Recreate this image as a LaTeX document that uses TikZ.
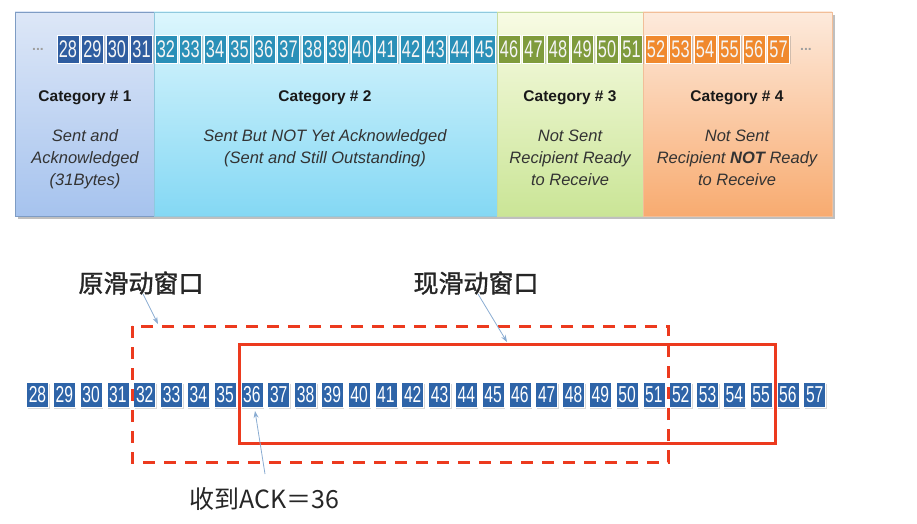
\documentclass[tikz,border=0pt]{standalone}
\usepackage{fontspec}
\setmainfont{Liberation Sans}
\newfontfamily\narrow[FakeStretch=0.68]{Liberation Sans}
\newfontfamily\cjk{Noto Sans CJK SC}
\newfontfamily\cjkm[FakeBold=1.3]{Noto Sans CJK SC}
\usetikzlibrary{arrows.meta,shadows}
\definecolor{c1}{HTML}{2F5DA0}
\definecolor{c2}{HTML}{2A90B8}
\definecolor{c3}{HTML}{7F9B3C}
\definecolor{c4}{HTML}{F0892E}
\definecolor{bb}{HTML}{2E64A8}
\definecolor{winred}{HTML}{EC3A1E}
\definecolor{arrowblue}{HTML}{8AACD2}
\definecolor{desc}{HTML}{333333}
\definecolor{g1t}{HTML}{DDE7F7}\definecolor{g1b}{HTML}{A6C3EE}\definecolor{g1l}{HTML}{7E9CC4}
\definecolor{g2t}{HTML}{DCF6FD}\definecolor{g2b}{HTML}{84D8F4}\definecolor{g2l}{HTML}{8FC9DE}
\definecolor{g3t}{HTML}{F8FBE4}\definecolor{g3b}{HTML}{CAE596}\definecolor{g3l}{HTML}{C8DDA0}
\definecolor{g4t}{HTML}{FDEADC}\definecolor{g4b}{HTML}{F8AB70}\definecolor{g4l}{HTML}{F2BE98}
\tikzset{
  topbox/.style={minimum width=22pt, minimum height=28pt, inner sep=0pt, draw=white, line width=0.6pt,
    font=\narrow\fontsize{24}{24}\selectfont, text=white!92!gray,
    drop shadow={opacity=0.35, shadow xshift=1pt, shadow yshift=-1.5pt}},
  botbox/.style={minimum width=22pt, minimum height=25pt, inner sep=0pt, fill=bb, draw=white, line width=0.6pt,
    font=\narrow\fontsize{23}{23}\selectfont, text=white,
    drop shadow={opacity=0.3, shadow xshift=1pt, shadow yshift=-1.5pt}},
  cattitle/.style={font=\bfseries\fontsize{15.5}{18}\selectfont, text=black!90},
  catdesc/.style={font=\itshape\fontsize{16.5}{22}\selectfont, text=desc, align=center},
  dots/.style={font=\bfseries\fontsize{14}{14}\selectfont, text=gray!75},
  cnlabel/.style={font=\cjkm\fontsize{25}{28}\selectfont, text=black!85},
  pointer/.style={draw=arrowblue, line width=0.8pt, -{Stealth[length=7pt,width=5pt]}},
  oldwin/.style={draw=winred, line width=3pt, dash pattern=on 12pt off 9pt},
  newwin/.style={draw=winred, line width=3pt}
}
\begin{document}
\begin{tikzpicture}[x=1pt,y=-1pt]
\useasboundingbox (0,0) rectangle (917,524);
% top panel shadow
\fill[black!25] (18,15) rectangle (835,219);
% category backgrounds
\shade[top color=g1t, bottom color=g1b] (15,12) rectangle (154,216);
\shade[top color=g2t, bottom color=g2b] (154,12) rectangle (497,216);
\shade[top color=g3t, bottom color=g3b] (497,12) rectangle (643,216);
\shade[top color=g4t, bottom color=g4b] (643,12) rectangle (832,216);
\draw[g1l, line width=0.8pt] (15,12) rectangle (154,216);
\draw[g2l, line width=0.8pt] (154,12) rectangle (497,216);
\draw[g3l, line width=0.8pt] (497,12) rectangle (643,216);
\draw[g4l, line width=0.8pt] (643,12) rectangle (832,216);
% top number boxes
\foreach \n in {28,...,57}{
  \pgfmathtruncatemacro\i{\n-28}
  \ifnum\n<32 \def\c{c1}\else\ifnum\n<46 \def\c{c2}\else\ifnum\n<52 \def\c{c3}\else\def\c{c4}\fi\fi\fi
  \node[topbox, fill=\c] (t\n) at ({68+\i*24.5},49) {\n};
}
\node[dots] (dl) at (38,49) {...};
\node[dots] (dr) at (806,49) {...};
% category texts
\node[cattitle] (h1) at (85,98) {Category \# 1};
\node[cattitle] (h2) at (325,98) {Category \# 2};
\node[cattitle] (h3) at (570,98) {Category \# 3};
\node[cattitle] (h4) at (737,98) {Category \# 4};
\node[catdesc, anchor=north] (d1) at (85,126) {Sent and\\Acknowledged\\(31Bytes)};
\node[catdesc, anchor=north] (d2) at (325,126) {Sent But NOT Yet Acknowledged\\(Sent and Still Outstanding)};
\node[catdesc, anchor=north] (d3) at (570,126) {Not Sent\\Recipient Ready\\to Receive};
\node[catdesc, anchor=north] (d4) at (737,126) {Not Sent\\Recipient \textbf{NOT} Ready\\to Receive};
% bottom row
\foreach \n in {28,...,57}{
  \pgfmathtruncatemacro\i{\n-28}
  \node[botbox] (b\n) at ({37.5+\i*26.8},394.5) {\n};
}
% windows
\draw[oldwin] (132,326) rectangle (668,462);
\draw[newwin] (239,344) rectangle (775,443);
\coordinate (oldtip) at (158,324);
\coordinate (newtip) at (507,342);
\coordinate (acktip) at (255,411);
% labels
\node[cnlabel] (old) at (141,283) {原滑动窗口};
\node[cnlabel] (new) at (476,283) {现滑动窗口};
\node[font=\cjk\fontsize{25}{28}\selectfont, text=black!85] (ack) at (264,499) {收到ACK＝36};
\draw[pointer] (143,294) -- (oldtip);
\draw[pointer] (478,294) -- (newtip);
\draw[pointer] (265,474) -- (acktip);
\end{tikzpicture}
\end{document}
